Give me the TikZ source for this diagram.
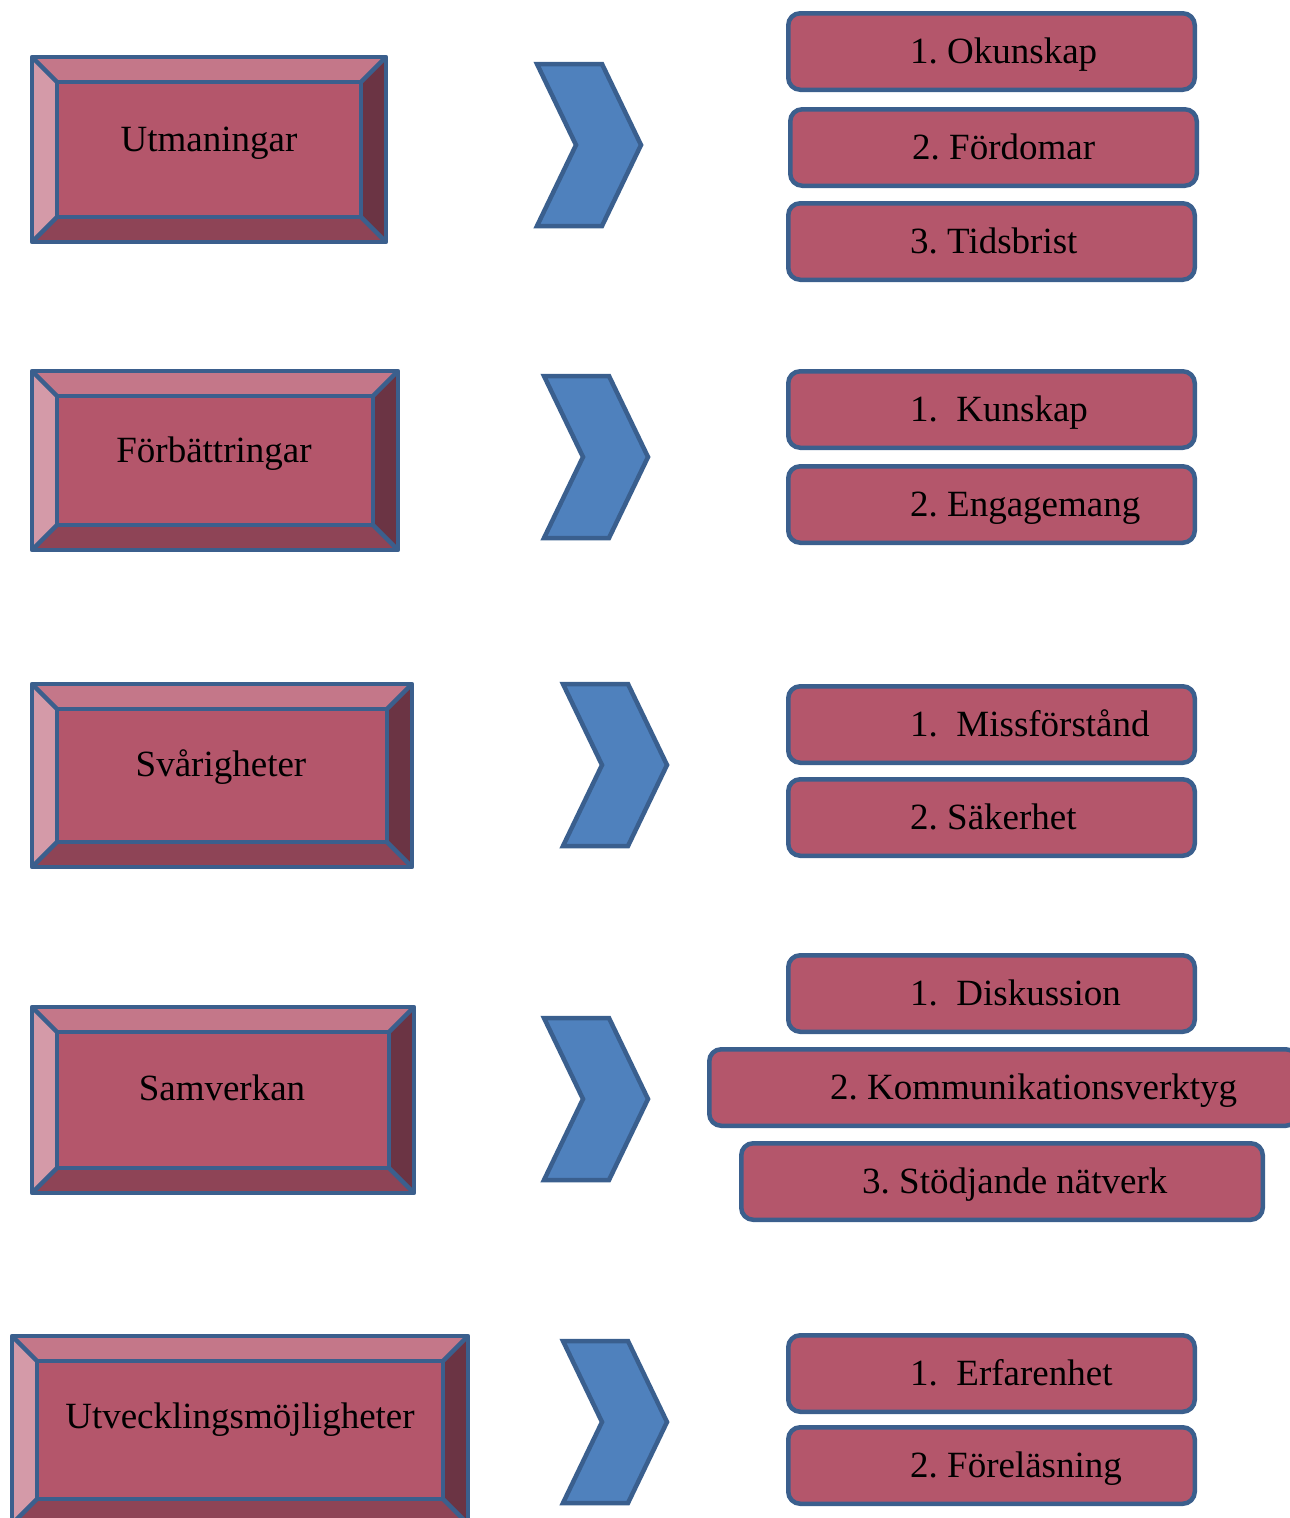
\documentclass[tikz,border=0pt]{standalone}
\usepackage{fontspec}
\setmainfont{Liberation Serif}
\frenchspacing
\definecolor{mainc}{HTML}{B4566B}
\definecolor{topc}{HTML}{C47789}
\definecolor{leftc}{HTML}{D49AA8}
\definecolor{rightc}{HTML}{6B3444}
\definecolor{botc}{HTML}{8E4456}
\definecolor{bord}{HTML}{3B5F8D}
\definecolor{chevc}{HTML}{4F81BD}
\definecolor{chevb}{HTML}{3A5F8E}
\tikzset{
  lbl/.style={font=\fontsize{37}{44}\selectfont, inner sep=0pt, text=black},
  rbox/.style={draw=bord, fill=mainc, line width=4.5pt, rounded corners=12pt, inner sep=0pt, outer sep=0pt, anchor=north west},
  chev/.style={draw=chevb, fill=chevc, line width=4.5pt, line join=miter},
  bevedge/.style={draw=bord, line width=4.5pt, line join=round}
}
% name, x1, y1, x2, y2, text, text-x, text-y
\newcommand\bevelbox[8]{%
  \coordinate (#1-nw) at (#2,#3);
  \coordinate (#1-se) at (#4,#5);
  \coordinate (#1-inw) at (#2+25,#3+25);
  \coordinate (#1-ise) at (#4-25,#5-25);
  \coordinate (#1-ne) at (#4,#3);
  \coordinate (#1-sw) at (#2,#5);
  \coordinate (#1-ine) at (#4-25,#3+25);
  \coordinate (#1-isw) at (#2+25,#5-25);
  \fill[topc] (#1-nw) -- (#1-ne) -- (#1-ine) -- (#1-inw) -- cycle;
  \fill[leftc] (#1-nw) -- (#1-inw) -- (#1-isw) -- (#1-sw) -- cycle;
  \fill[rightc] (#1-ne) -- (#1-se) -- (#1-ise) -- (#1-ine) -- cycle;
  \fill[botc] (#1-sw) -- (#1-isw) -- (#1-ise) -- (#1-se) -- cycle;
  \fill[mainc] (#1-inw) rectangle (#1-ise);
  \draw[bevedge] (#1-nw) rectangle (#1-se);
  \draw[bevedge] (#1-inw) rectangle (#1-ise);
  \draw[bevedge] (#1-nw) -- (#1-inw) (#1-ne) -- (#1-ine) (#1-sw) -- (#1-isw) (#1-se) -- (#1-ise);
  \node[lbl, anchor=base] (#1) at (#7,#8+12) {#6};
}
% name, x-left, y-top
\newcommand\chevron[3]{%
  \coordinate (#1) at (#2,#3);
  \draw[chev] (#1) -- ++(65,0) -- ++(39,81) -- ++(-39,81) -- ++(-65,0) -- ++(39,-81) -- cycle;
}
% name, x1, y1, x2, y2, text, text-left-x
\newcommand\itembox[7]{%
  \node[rbox, minimum width=#4-#2-4.5, minimum height=#5-#3-4.5] (#1-box) at (#2+2.25,#3+2.25) {};
  \node[lbl, anchor=base west] (#1) at (#7,#3/2+#5/2+12) {#6};
}
\begin{document}
\begin{tikzpicture}[x=1pt,y=-1pt]
\useasboundingbox (0,0) rectangle (1290,1518);
\clip (0,0) rectangle (1290,1518);

\bevelbox{u}{32}{57}{386}{242}{Utmaningar}{209}{139}
\bevelbox{f}{32}{371}{398}{550}{Förbättringar}{214}{450}
\bevelbox{s}{32}{684}{412}{867}{Svårigheter}{221}{764}
\bevelbox{sa}{32}{1007}{414}{1193}{Samverkan}{222}{1088}
\bevelbox{ut}{12}{1336}{468}{1524}{Utvecklingsmöjligheter}{240}{1416}

\chevron{c1}{537}{64}
\chevron{c2}{544}{376}
\chevron{c3}{563}{684}
\chevron{c4}{544}{1018}
\chevron{c5}{563}{1341}

\itembox{i11}{786}{11}{1197}{92}{1. Okunskap}{910}
\itembox{i12}{788}{107}{1199}{188}{2. Fördomar}{912}
\itembox{i13}{786}{201}{1197}{282}{3. Tidsbrist}{910}

\itembox{i21}{786}{369}{1197}{450}{1.\ \ Kunskap}{910}
\itembox{i22}{786}{464}{1197}{545}{2. Engagemang}{910}

\itembox{i31}{786}{684}{1197}{765}{1.\ \ Missförstånd}{910}
\itembox{i32}{786}{777}{1197}{858}{2. Säkerhet}{910}

\itembox{i41}{786}{953}{1197}{1034}{1.\ \ Diskussion}{910}
\itembox{i42}{707}{1047}{1300}{1128}{2. Kommunikationsverktyg}{830}
\itembox{i43}{739}{1141}{1265}{1222}{3. Stödjande nätverk}{862}

\itembox{i51}{786}{1333}{1197}{1414}{1.\ \ Erfarenhet}{910}
\itembox{i52}{786}{1425}{1197}{1506}{2. Föreläsning}{910}
\end{tikzpicture}
\end{document}
